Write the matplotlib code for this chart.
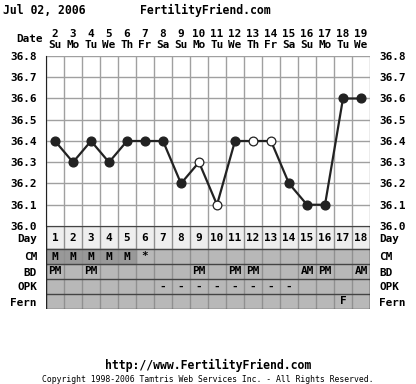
import matplotlib
matplotlib.use("Agg")
import matplotlib.pyplot as plt
from matplotlib.patches import Rectangle

plt.rcParams['font.family'] = ['DejaVu Sans Mono']
plt.rcParams['font.weight'] = 'bold'

# chart data
days = list(range(1, 19))
dates = [2, 3, 4, 5, 6, 7, 8, 9, 10, 11, 12, 13, 14, 15, 16, 17, 18, 19]
weekdays = ["Su", "Mo", "Tu", "We", "Th", "Fr", "Sa", "Su", "Mo",
            "Tu", "We", "Th", "Fr", "Sa", "Su", "Mo", "Tu", "We"]
temps = [36.4, 36.3, 36.4, 36.3, 36.4, 36.4, 36.4, 36.2, 36.3,
         36.1, 36.4, 36.4, 36.4, 36.2, 36.1, 36.1, 36.6, 36.6]
open_pts = [9, 10, 12, 13]   # days drawn with hollow markers
temp_ticks = [36.0, 36.1, 36.2, 36.3, 36.4, 36.5, 36.6, 36.7, 36.8]

cm = {1: "M", 2: "M", 3: "M", 4: "M", 5: "M", 6: "*"}
bd = {1: "PM", 3: "PM", 9: "PM", 11: "PM", 12: "PM", 15: "AM", 16: "PM", 18: "AM"}
opk = {7: "-", 8: "-", 9: "-", 10: "-", 11: "-", 12: "-", 13: "-", 14: "-"}
fern = {17: "F"}
row_names = ["CM", "BD", "OPK", "Fern"]
row_data = [cm, bd, opk, fern]

W, H = 416, 384
fig = plt.figure(figsize=(W / 100, H / 100), dpi=100)
fs = 7.9

# temperature chart
L, R = 46, 370
ax = fig.add_axes([L / W, 1 - 226 / H, (R - L) / W, 170 / H])
ax.set_xlim(0.5, 18.5)
ax.set_ylim(36.0, 36.8)
for x in [d + 0.5 for d in range(0, 19)]:
    ax.axvline(x, color="#a0a0a0", lw=1, zorder=0)
for t in temp_ticks:
    ax.axhline(t, color="#a0a0a0", lw=1, zorder=0)

ax.plot(days, temps, color="#222222", lw=1.6, zorder=2)
fill_d = [d for d in days if d not in open_pts]
ax.plot(fill_d, [temps[d - 1] for d in fill_d], "o", ms=6.3, color="#222222", zorder=3)
ax.plot(open_pts, [temps[d - 1] for d in open_pts], "o", ms=6.3,
        mfc="white", mec="#222222", mew=0.9, zorder=3)

ax.set_yticks(temp_ticks)
ax.set_yticklabels([f"{t:.1f}" for t in temp_ticks], fontsize=fs)
ax.tick_params(axis="y", which="both", left=False, right=False,
               labelleft=True, labelright=True, pad=3)
ax.set_xticks(days)
ax.set_xticklabels([f"{d}\n{w}" for d, w in zip(dates, weekdays)],
                   fontsize=fs, linespacing=1.1)
ax.tick_params(axis="x", top=False, bottom=False, labeltop=True,
               labelbottom=False, pad=1)
for s in ax.spines.values():
    s.set_visible(False)
ax.spines["left"].set_visible(True)
ax.spines["left"].set_color("#222222")

# table below
tb = fig.add_axes([L / W, 1 - 309 / H, (R - L) / W, 83 / H])
tb.set_xlim(0.5, 18.5)
tb.set_ylim(83, 0)
edges = [0, 23, 38, 53, 68, 83]
tb.axhspan(0, 23, color="#eeeeee", zorder=0)
tb.axhspan(23, 83, color="#b8b8b8", zorder=0)
for d in cm:
    if cm[d] == "M":
        tb.add_patch(Rectangle((d - 0.5, 23), 1, 15, color="#999999", zorder=1))
for x in [d + 0.5 for d in range(0, 19)]:
    tb.axvline(x, color="#909090", lw=1, zorder=2)
for e in edges:
    tb.axhline(e, color="#444444", lw=1, zorder=3)
tb.axvline(0.5, color="#222222", lw=1, zorder=3)
tb.axvline(18.5, color="#222222", lw=1, zorder=3)

for d in days:
    tb.text(d, 12, str(d), ha="center", va="center", fontsize=fs)
for i, data in enumerate(row_data):
    yc = (edges[i + 1] + edges[i + 2]) / 2
    for d, txt in data.items():
        tb.text(d, yc, txt, ha="center", va="center", fontsize=fs)

tb.set_yticks([11.5] + [(edges[i] + edges[i + 1]) / 2 for i in range(1, 5)])
tb.set_yticklabels(["Day"] + row_names, fontsize=fs)
tb.tick_params(axis="y", left=False, right=False, labelleft=True,
               labelright=True, pad=3)
tb.set_xticks([])
for s in tb.spines.values():
    s.set_visible(False)

# header and footer
fig.text(3 / W, 1 - 10 / H, "Jul 02, 2006", fontsize=8.3, va="center")
fig.text(140 / W, 1 - 10 / H, "FertilityFriend.com", fontsize=8.3, va="center")
fig.text(43 / W, 1 - 39 / H, "Date", fontsize=fs, va="center", ha="right")
fig.text(208 / W, 1 - 365 / H, "http://www.FertilityFriend.com", fontsize=8.3,
         va="center", ha="center")
fig.text(208 / W, 1 - 379 / H,
         "Copyright 1998-2006 Tamtris Web Services Inc. - All Rights Reserved.",
         fontsize=5.9, va="center", ha="center", weight="normal")

fig.savefig("out.png", dpi=100, facecolor="white")
